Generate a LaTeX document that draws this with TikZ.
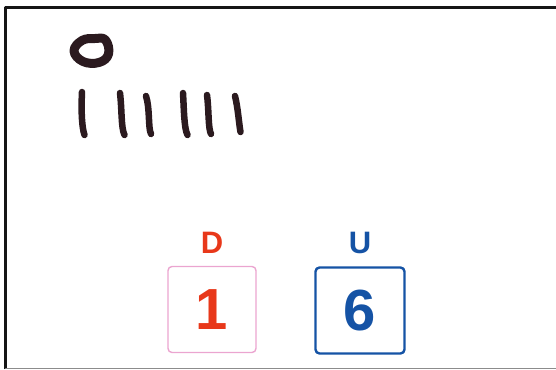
\documentclass[tikz,border=0pt]{standalone}
\usepackage{fontspec}
\setmainfont{Liberation Sans}
\usepackage{xcolor}
\usepackage{tikz}
\usetikzlibrary{positioning}
\definecolor{tyInk}{HTML}{2B1A1F}
\definecolor{tyRed}{HTML}{E8381A}
\definecolor{tyBlue}{HTML}{1553A5}
\definecolor{tyPink}{HTML}{EBA5D0}
\definecolor{tyFrame}{HTML}{151515}
\tikzset{
  ty diagram/.style={x=1pt, y=-1pt, line cap=round, line join=round},
  ty frame/.style={draw=tyFrame, line width=3pt, line cap=butt},
  ty ink/.style={draw=tyInk, line width=6.5pt},
  ty ring/.style={draw=tyInk, line width=9pt},
  ty card/.style={rounded corners=4pt, minimum width=88pt, minimum height=86pt,
    inner sep=0pt, font=\fontsize{58}{58}\selectfont\bfseries},
  ty tag/.style={inner sep=0pt, font=\fontsize{31}{31}\selectfont\bfseries}
}

\begin{document}
\begin{tikzpicture}[ty diagram]
\useasboundingbox (0,0) rectangle (556,369);
% frame
\draw[ty frame] (5.5,369) -- (5.5,7.5) -- (556,7.5);
\draw[draw=black!45, line width=0.8pt] (5.5,368.2) -- (556,368.2);
% ring
\draw[ty ring] plot[smooth cycle, tension=0.7] coordinates
  {(74,51) (82,40.5) (95,38.5) (105.5,40) (108.5,54) (99,62.5) (83,61.5)};
% tally marks
\draw[ty ink] (82,92) .. controls (81,112) and (82,128) .. (84.5,135);
\draw[ty ink] (120,93) .. controls (122,110) and (121,128) .. (124.5,135);
\draw[ty ink] (146,96) .. controls (150,108) and (148,128) .. (151,134);
\draw[ty ink] (183,93) .. controls (184,110) and (184,128) .. (187.5,135);
\draw[ty ink] (207,95) .. controls (209,110) and (208,128) .. (211,134);
\draw[ty ink] (235,96) .. controls (238,108) and (239,124) .. (240.5,132);
% cards
\node[ty card, draw=tyPink, line width=1.4pt, text=tyRed] (dcard) at (212,309.5) {1};
\node[ty card, draw=tyBlue, line width=2.4pt, text=tyBlue, minimum width=89pt] (ucard) at (360,310.5) {6};
\node[ty tag, text=tyRed, above=12pt of dcard] (dtag) {D};
\node[ty tag, text=tyBlue, above=12pt of ucard] (utag) {U};
\end{tikzpicture}
\end{document}
